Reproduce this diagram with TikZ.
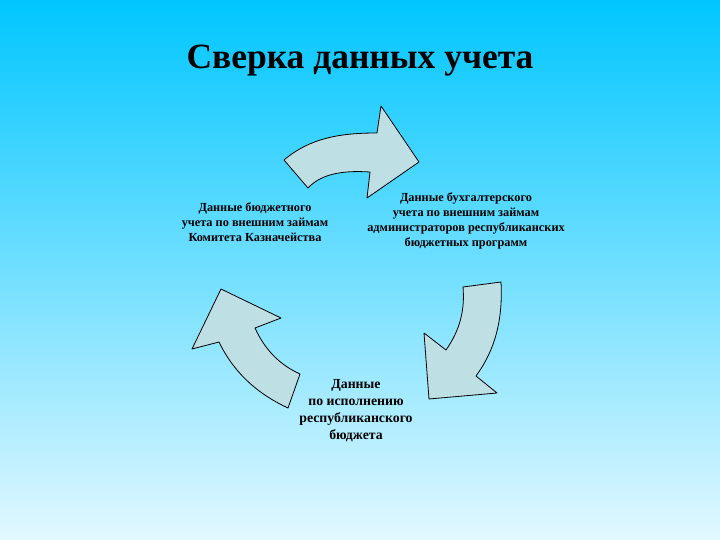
\documentclass[tikz,border=0pt]{standalone}
\usepackage{fontspec}
\setmainfont{Liberation Serif}
\usetikzlibrary{positioning}
\definecolor{skytop}{RGB}{0,198,255}
\definecolor{skybottom}{RGB}{226,248,255}
\definecolor{arrowfill}{RGB}{190,224,228}

\begin{document}
\begin{tikzpicture}[x=1pt, y=-1pt,
    blockarrow/.style={draw=black, line width=0.8pt, fill=arrowfill, line join=round},
    label/.style={align=center, font=\bfseries\fontsize{12.3}{14.8}\selectfont}]
    \shade [top color=skytop, bottom color=skybottom] (0,0) rectangle (720,540);
    \useasboundingbox (0,0) rectangle (720,540);

    \node (title) at (360,61) {\bfseries\fontsize{35.5}{40}\selectfont Сверка данных учета};

    \node (budget) [label] at (255,222) {Данные бюджетного\\учета по внешним займам\\Комитета Казначейства};
    \node (account) [label] at (466,221) {Данные бухгалтерского\\учета по внешним займам\\администраторов республиканских\\бюджетных программ};
    \node (execution) [label, font=\bfseries\fontsize{13.8}{17}\selectfont] at (356,411) {Данные\\по исполнению\\республиканского\\бюджета};

    % top arrow
    \draw [blockarrow] (284,160) .. controls (310,138) and (340,133) .. (377,133)
        -- (381,106) -- (419,162) -- (367,198) -- (370,172)
        .. controls (340,170) and (320,175) .. (308,188) -- cycle;
    % right arrow
    \draw [blockarrow] (463,287) -- (501,282) .. controls (503,320) and (495,350) .. (476,376)
        -- (497,393) -- (429,399) -- (424,333) -- (446,350)
        .. controls (460,330) and (465,310) .. (463,287) -- cycle;
    % left arrow
    \draw [blockarrow] (300,374) -- (288,408) .. controls (260,395) and (235,375) .. (219,342)
        -- (192,349) -- (221,289) -- (281,318) -- (255,328)
        .. controls (265,350) and (280,365) .. (300,374) -- cycle;
\end{tikzpicture}
\end{document}
